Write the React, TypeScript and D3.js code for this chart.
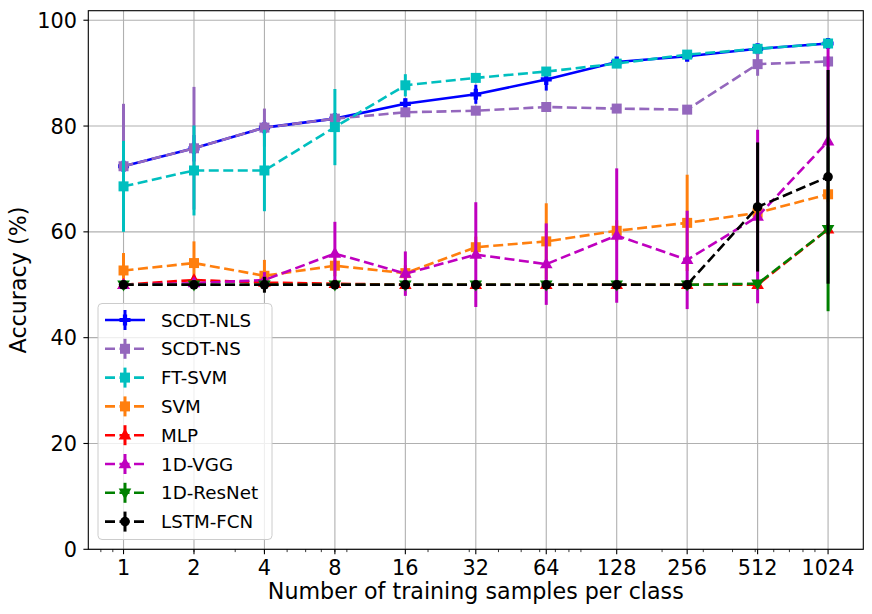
import React, { useEffect, useRef } from "react";
import * as d3 from "d3";

// training samples per class (x) and mean accuracy / error for each method
const samples = [1, 2, 4, 8, 16, 32, 64, 128, 256, 512, 1024];

const scdtNls = [72.4, 75.8, 79.7, 81.4, 84.2, 86.0, 88.8, 92.1, 93.2, 94.6, 95.6];
const scdtNlsErr = [2.5, 2.5, 1.5, 1.0, 1.0, 1.8, 2.1, 0.8, 0.6, 0.5, 0.3];

const scdtNs = [72.4, 75.8, 79.7, 81.4, 82.6, 82.9, 83.6, 83.3, 83.1, 91.7, 92.2];
const scdtNsErr = [11.8, 11.6, 3.6, 1.0, 0.8, 0.5, 0.6, 0.5, 0.5, 2.2, 1.0];

const ftSvm = [68.6, 71.6, 71.6, 79.8, 87.7, 89.1, 90.3, 91.8, 93.5, 94.6, 95.6];
const ftSvmErr = [8.6, 8.5, 7.7, 7.2, 2.1, 0.8, 0.8, 0.6, 0.5, 0.5, 0.3];

const svm = [52.7, 54.1, 51.7, 53.6, 52.2, 57.1, 58.2, 60.2, 61.7, 63.6, 67.1];
const svmErr = [3.3, 4.1, 3.0, 2.0, 1.5, 2.0, 7.2, 2.0, 9.1, 2.0, 1.5];

const mlp = [50.0, 50.9, 50.4, 50.2, 50.0, 50.0, 50.0, 50.0, 50.0, 50.0, 60.5];
const mlpErr = [0.5, 0.8, 0.6, 0.5, 0.3, 0, 0, 0, 0, 0.3, 1.0];

const vgg = [50.0, 50.3, 50.9, 55.9, 52.1, 55.7, 53.9, 59.3, 54.7, 62.9, 77.1];
const vggErr = [0.8, 1.0, 1.5, 6.0, 4.2, 9.9, 7.7, 12.7, 9.3, 16.4, 17.6];

const resnet = [50.0, 50.0, 50.0, 50.0, 50.0, 50.0, 50.0, 50.0, 50.0, 50.2, 60.5];
const resnetErr = [0.3, 0.3, 0.3, 0.3, 0, 0, 0, 0, 0, 0.3, 15.5];

const lstm = [50.0, 50.0, 50.0, 50.0, 50.0, 50.0, 50.0, 50.0, 50.0, 64.7, 70.4];
const lstmErr = [0.5, 0.5, 1.5, 0.5, 0.3, 0, 0, 0, 0, 12.2, 20.2];

const yTicks = [0, 20, 40, 60, 80, 100];

type Marker = "plus" | "square" | "up" | "down" | "circle";

interface Series {
  name: string;
  values: number[];
  errors: number[];
  color: string;
  dashed: boolean;
  marker: Marker;
}

const series: Series[] = [
  { name: "SCDT-NLS", values: scdtNls, errors: scdtNlsErr, color: "#0000ff", dashed: false, marker: "plus" },
  { name: "SCDT-NS", values: scdtNs, errors: scdtNsErr, color: "#9467bd", dashed: true, marker: "square" },
  { name: "FT-SVM", values: ftSvm, errors: ftSvmErr, color: "#00bfbf", dashed: true, marker: "square" },
  { name: "SVM", values: svm, errors: svmErr, color: "#ff7f0e", dashed: true, marker: "square" },
  { name: "MLP", values: mlp, errors: mlpErr, color: "#ff0000", dashed: true, marker: "up" },
  { name: "1D-VGG", values: vgg, errors: vggErr, color: "#bf00bf", dashed: true, marker: "up" },
  { name: "1D-ResNet", values: resnet, errors: resnetErr, color: "#008000", dashed: true, marker: "down" },
  { name: "LSTM-FCN", values: lstm, errors: lstmErr, color: "#000000", dashed: true, marker: "circle" },
];

const markerPath = (m: Marker): string => {
  const s = 5.5;
  switch (m) {
    case "plus": {
      const a = s;
      const b = s / 2.6;
      return `M${-b},${-a}H${b}V${-b}H${a}V${b}H${b}V${a}H${-b}V${b}H${-a}V${-b}H${-b}Z`;
    }
    case "square":
      return `M${-5},${-5}H5V5H-5Z`;
    case "up":
      return `M0,-6.8L6.3,4.2L-6.3,4.2Z`;
    case "down":
      return `M0,6.8L6.3,-4.2L-6.3,-4.2Z`;
    default:
      return d3.symbol(d3.symbolCircle, 72)()!;
  }
};

const App: React.FC = () => {
  const svgRef = useRef<SVGSVGElement | null>(null);

  useEffect(() => {
    const svg = d3.select(svgRef.current);
    svg.selectAll("*").remove();

    const left = 88.3;
    const right = 863.3;
    const top = 10.7;
    const bottom = 549.3;
    const font = "DejaVu Sans";

    const x = d3
      .scaleLog()
      .base(2)
      .domain([Math.pow(2, -0.5), Math.pow(2, 10.5)])
      .range([left, right]);

    const y = d3.scaleLinear().domain([0, 101.8]).range([bottom, top]);

    svg.append("rect").attr("width", 872).attr("height", 614).attr("fill", "white");

    // grid
    const grid = svg.append("g").attr("stroke", "#b0b0b0").attr("stroke-width", 1.1);
    samples.forEach((s) => {
      grid.append("line").attr("x1", x(s)).attr("x2", x(s)).attr("y1", top).attr("y2", bottom);
    });
    yTicks.forEach((t) => {
      grid.append("line").attr("x1", left).attr("x2", right).attr("y1", y(t)).attr("y2", y(t));
    });

    // data
    const plot = svg.append("g");
    series.forEach((s) => {
      const g = plot.append("g");
      g.selectAll("line.err")
        .data(s.values)
        .enter()
        .append("line")
        .attr("class", "err")
        .attr("x1", (_d, i) => x(samples[i]))
        .attr("x2", (_d, i) => x(samples[i]))
        .attr("y1", (d, i) => y(d - s.errors[i]))
        .attr("y2", (d, i) => y(d + s.errors[i]))
        .attr("stroke", s.color)
        .attr("stroke-width", 3);

      const line = d3
        .line<number>()
        .x((_d, i) => x(samples[i]))
        .y((d) => y(d));

      g.append("path")
        .attr("d", line(s.values))
        .attr("fill", "none")
        .attr("stroke", s.color)
        .attr("stroke-width", 2.6)
        .attr("stroke-dasharray", s.dashed ? "10,4.5" : null);

      g.selectAll("path.mk")
        .data(s.values)
        .enter()
        .append("path")
        .attr("class", "mk")
        .attr("d", markerPath(s.marker))
        .attr("transform", (d, i) => `translate(${x(samples[i])},${y(d)})`)
        .attr("fill", s.color);
    });

    // frame
    svg
      .append("rect")
      .attr("x", left)
      .attr("y", top)
      .attr("width", right - left)
      .attr("height", bottom - top)
      .attr("fill", "none")
      .attr("stroke", "black")
      .attr("stroke-width", 1.1);

    // x ticks
    const axis = svg.append("g").attr("font-family", font).attr("fill", "black");
    const minor: number[] = [];
    [0.1, 1, 10, 100].forEach((dec) => {
      for (let k = 2; k <= 9; k++) {
        const v = k * dec;
        if (v >= x.domain()[0] && v <= x.domain()[1]) minor.push(v);
      }
    });
    minor.forEach((v) => {
      axis
        .append("line")
        .attr("x1", x(v))
        .attr("x2", x(v))
        .attr("y1", bottom)
        .attr("y2", bottom + 2.8)
        .attr("stroke", "black")
        .attr("stroke-width", 0.8);
    });
    samples.forEach((s) => {
      axis
        .append("line")
        .attr("x1", x(s))
        .attr("x2", x(s))
        .attr("y1", bottom)
        .attr("y2", bottom + 4.9)
        .attr("stroke", "black")
        .attr("stroke-width", 1.1);
      axis
        .append("text")
        .attr("x", x(s))
        .attr("y", 575)
        .attr("text-anchor", "middle")
        .attr("font-size", 20.8)
        .text(String(s));
    });

    // y ticks
    yTicks.forEach((t) => {
      axis
        .append("line")
        .attr("x1", left - 4.9)
        .attr("x2", left)
        .attr("y1", y(t))
        .attr("y2", y(t))
        .attr("stroke", "black")
        .attr("stroke-width", 1.1);
      axis
        .append("text")
        .attr("x", 77)
        .attr("y", y(t))
        .attr("dy", "0.36em")
        .attr("text-anchor", "end")
        .attr("font-size", 20.8)
        .text(String(t));
    });

    axis
      .append("text")
      .attr("x", (left + right) / 2)
      .attr("y", 599)
      .attr("text-anchor", "middle")
      .attr("font-size", 22.2)
      .text("Number of training samples per class");

    axis
      .append("text")
      .attr("transform", `translate(26,${(top + bottom) / 2}) rotate(-90)`)
      .attr("text-anchor", "middle")
      .attr("font-size", 22.2)
      .text("Accuracy (%)");

    // legend
    const legend = svg.append("g").attr("font-family", font);
    legend
      .append("rect")
      .attr("x", 98)
      .attr("y", 303.5)
      .attr("width", 174)
      .attr("height", 236)
      .attr("rx", 4)
      .attr("fill", "white")
      .attr("fill-opacity", 0.8)
      .attr("stroke", "#cccccc")
      .attr("stroke-width", 1);

    series.forEach((s, i) => {
      const cy = 320 + i * 28.8;
      const item = legend.append("g");
      item
        .append("line")
        .attr("x1", 105)
        .attr("x2", 145)
        .attr("y1", cy)
        .attr("y2", cy)
        .attr("stroke", s.color)
        .attr("stroke-width", 2.6)
        .attr("stroke-dasharray", s.dashed ? "10,4.5" : null);
      item
        .append("line")
        .attr("x1", 125)
        .attr("x2", 125)
        .attr("y1", cy - 10)
        .attr("y2", cy + 10)
        .attr("stroke", s.color)
        .attr("stroke-width", 3);
      item
        .append("path")
        .attr("d", markerPath(s.marker))
        .attr("transform", `translate(125,${cy})`)
        .attr("fill", s.color);
      item
        .append("text")
        .attr("x", 161)
        .attr("y", cy)
        .attr("dy", "0.36em")
        .attr("font-size", 18.3)
        .attr("fill", "black")
        .text(s.name);
    });
  }, []);

  return (
    <svg
      ref={svgRef}
      width={872}
      height={614}
      style={{ position: "absolute", left: 0, top: 0, display: "block" }}
    ></svg>
  );
};

export default App;
